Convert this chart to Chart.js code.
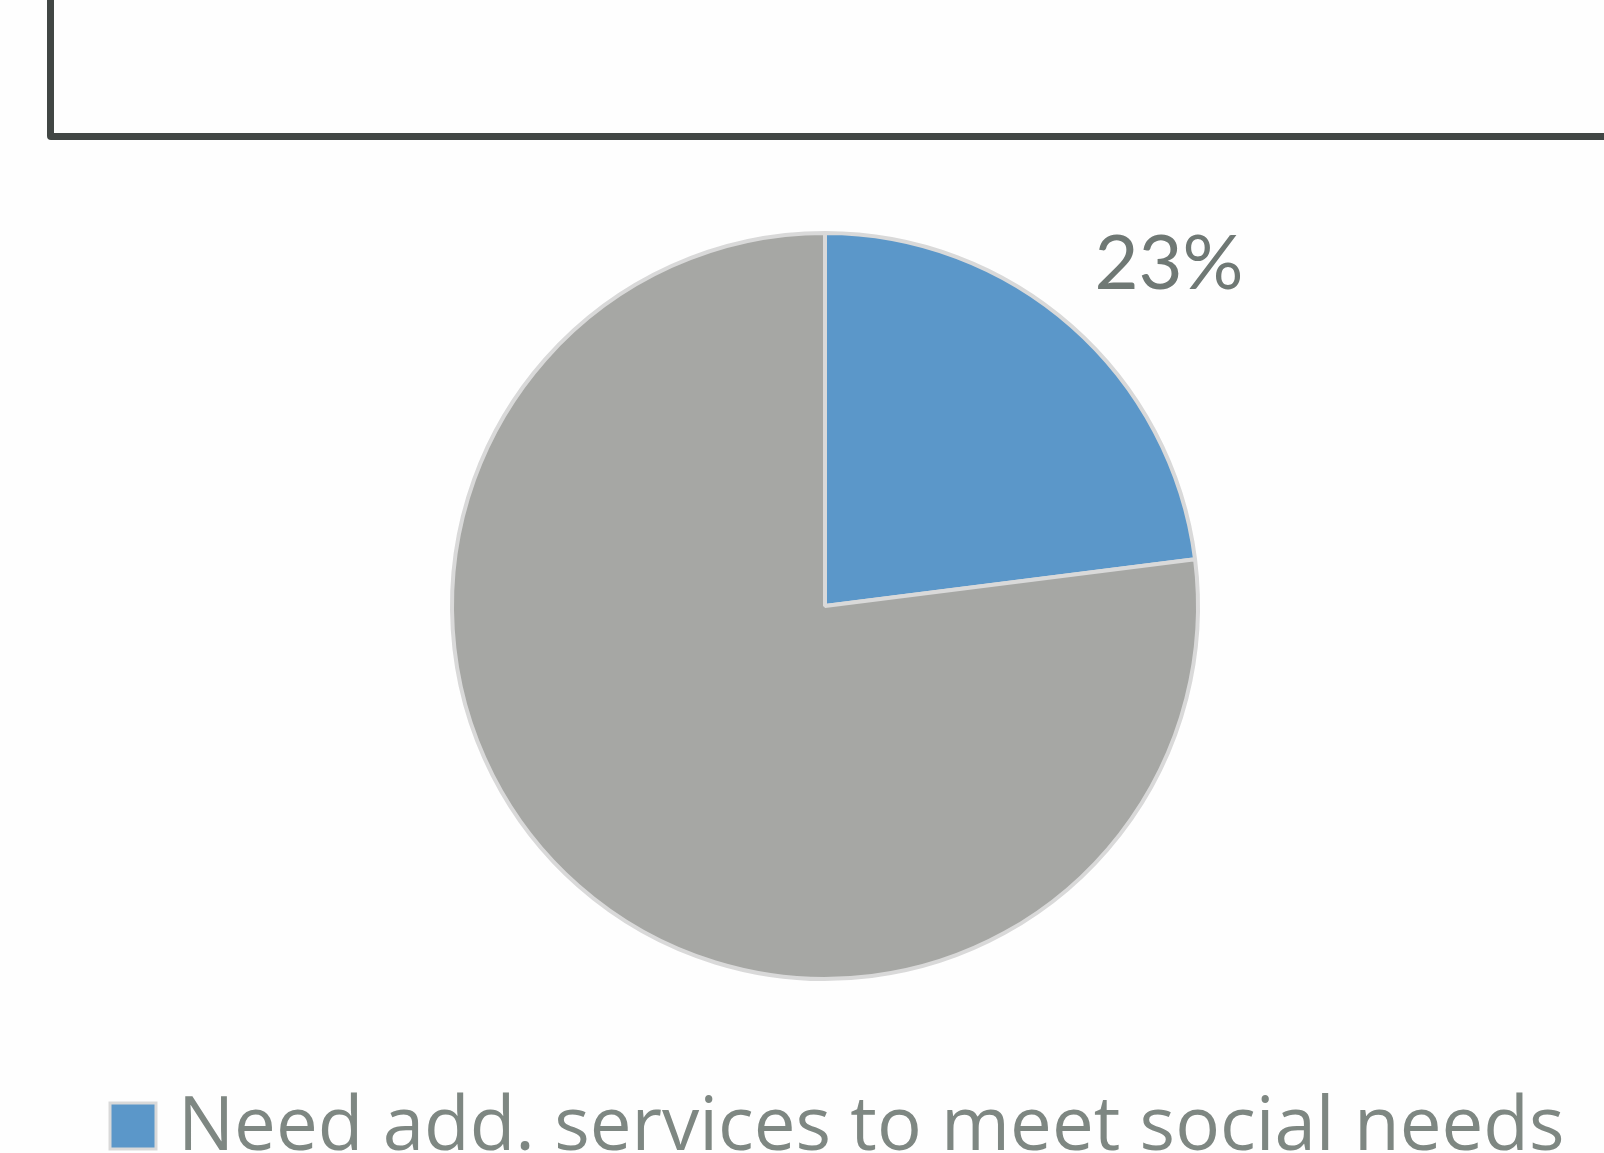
<!DOCTYPE html>
<html>
<head>
<meta charset="utf-8">
<script src="https://cdn.jsdelivr.net/npm/chart.js@4.4.1/dist/chart.umd.min.js"></script>
<style>
  html, body { margin: 0; padding: 0; background: #fefefe; overflow: hidden; }
  #wrap { position: relative; width: 1604px; height: 1153px; }
  #frame {
    position: absolute; left: 47px; top: -30px; width: 1700px; height: 170px;
    box-sizing: border-box; border: 7px solid #414644; border-radius: 4px;
  }
  #chart-box { position: absolute; left: 0; top: 0; width: 1604px; height: 1153px; }
</style>
</head>
<body>
<div id="wrap">
  <div id="frame"></div>
  <div id="chart-box"><canvas id="pieChart"></canvas></div>
</div>
<script>
// Survey split
const categories = ['Need add. services to meet social needs', 'No add. services needed'];
const shares = [23, 77];
const showValue = [true, false];

const COLORS = {
  slices: ['#5b97c9', '#a6a7a4'],
  border: '#d9d9d9',
  label: '#6f7874',
  legend: '#7e8782'
};

// percentage label just outside the slice edge
const valueLabels = {
  id: 'valueLabels',
  afterDatasetsDraw(chart) {
    const ctx = chart.ctx;
    const meta = chart.getDatasetMeta(0);
    ctx.save();
    ctx.fillStyle = COLORS.label;
    ctx.font = "76px Lato, sans-serif";
    ctx.textAlign = 'left';
    ctx.textBaseline = 'alphabetic';
    meta.data.forEach((arc, i) => {
      if (!showValue[i]) return;
      const mid = (arc.startAngle + arc.endAngle) / 2;
      const d = arc.outerRadius + 42;
      const x = arc.x + d * Math.cos(mid);
      const y = arc.y + d * Math.sin(mid);
      ctx.fillText(shares[i] + '%', x - 5, y - 6);
    });
    ctx.restore();
  }
};

// legend row along the bottom edge
const bottomLegend = {
  id: 'bottomLegend',
  afterDraw(chart) {
    const ctx = chart.ctx;
    ctx.save();
    ctx.font = "74.5px 'Open Sans', sans-serif";
    ctx.textBaseline = 'alphabetic';
    let x = 110;
    categories.forEach((name, i) => {
      ctx.fillStyle = COLORS.slices[i];
      ctx.fillRect(x, 1103, 46, 46);
      ctx.strokeStyle = COLORS.border;
      ctx.lineWidth = 3;
      ctx.strokeRect(x, 1103, 46, 46);
      ctx.fillStyle = COLORS.legend;
      ctx.fillText(name, x + 68, 1150);
      x += 68 + ctx.measureText(name).width + 90;
    });
    ctx.restore();
  }
};

new Chart(document.getElementById('pieChart').getContext('2d'), {
  type: 'pie',
  data: {
    labels: categories,
    datasets: [{
      data: shares,
      backgroundColor: COLORS.slices,
      borderColor: COLORS.border,
      borderWidth: 4
    }]
  },
  options: {
    responsive: true,
    maintainAspectRatio: false,
    animation: false,
    radius: 373,
    layout: { padding: { left: 46, top: 59, right: 0, bottom: 0 } },
    plugins: {
      legend: { display: false },
      tooltip: { enabled: false }
    }
  },
  plugins: [valueLabels, bottomLegend]
});
</script>
</body>
</html>
